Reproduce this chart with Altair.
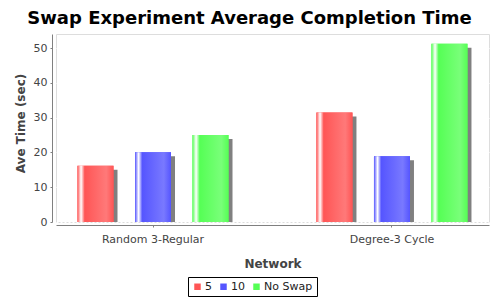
import altair as alt
import pandas as pd

networks = ["Random 3-Regular", "Degree-3 Cycle"]
series = ["5", "10", "No Swap"]
values_5 = [16.2, 31.5]
values_10 = [20.1, 18.9]
values_noswap = [25.0, 51.3]
y_ticks = [0, 10, 20, 30, 40, 50]
colors = ["#FF5555", "#5555FF", "#55FF55"]
brighter = ["#FF7979", "#7979FF", "#79FF79"]

rows = []
for s, vals in zip(series, [values_5, values_10, values_noswap]):
    for n, v in zip(networks, vals):
        rows.append({"network": n, "series": s, "value": v})
df = pd.DataFrame(rows)

FONT = "DejaVu Sans"

x_enc = alt.X(
    "network:N",
    sort=networks,
    scale=alt.Scale(paddingInner=0.368, paddingOuter=0.09),
    axis=alt.Axis(
        title="Network", offset=3, tickSize=2, labelPadding=6, labelFontSize=11,
        labelColor="#444444", labelFont=FONT, domainColor="#808080", tickColor="#808080",
        titleFont=FONT, titleFontSize=12, titleFontWeight="bold", titleColor="#444444",
        titleY=42, titleBaseline="alphabetic", labelAngle=0,
    ),
)


def xo(rng):
    return alt.XOffset("series:N", sort=series,
                       scale=alt.Scale(domain=series, range=rng,
                                       paddingInner=0.374, paddingOuter=0))


y_enc = alt.Y(
    "value:Q",
    scale=alt.Scale(domain=[0, 54.1], nice=False, zero=True),
    axis=alt.Axis(
        title="Ave Time (sec)", values=y_ticks, offset=4, tickSize=2, labelPadding=3,
        labelFontSize=11, labelColor="#444444", labelFont=FONT,
        domainColor="#808080", tickColor="#808080",
        gridColor="white", gridDash=[2, 2], gridWidth=1,
        titleFont=FONT, titleFontSize=12, titleFontWeight="bold", titleColor="#444444",
        titleX=-32, titleY=89, titleBaseline="middle",
    ),
)

base = alt.Chart(df)

shadow = base.mark_bar(color="#808080", yOffset=4, clip=True).encode(
    x=x_enc, xOffset=xo([4, 155]), y=y_enc
)

main_xo = xo([0, 151])
main = base.mark_bar().encode(
    x=x_enc, xOffset=main_xo, y=y_enc,
    color=alt.Color(
        "series:N", sort=series,
        scale=alt.Scale(domain=series, range=colors),
        legend=alt.Legend(
            title=None, orient="none", legendX=132, legendY=243, direction="horizontal",
            symbolType="square", symbolSize=42, symbolStrokeWidth=0,
            labelFontSize=11, labelFont=FONT, labelColor="#222222", labelOffset=2,
            columnPadding=6, padding=4, strokeColor="black",
        ),
    ),
)

grad_layers = []
for s, c0, c1 in zip(series, colors, brighter):
    g = alt.LinearGradient(
        gradient="linear", x1=0, x2=1, y1=0, y2=0,
        stops=[
            alt.GradientStop(color=c0, offset=0),
            alt.GradientStop(color="#FFFFFF", offset=0.1),
            alt.GradientStop(color=c0, offset=0.2),
            alt.GradientStop(color=c1, offset=0.8),
            alt.GradientStop(color=c0, offset=1),
        ],
    )
    grad_layers.append(
        base.transform_filter(alt.datum.series == s)
        .mark_bar(fill=g)
        .encode(x=x_enc, xOffset=main_xo, y=y_enc)
    )

chart = alt.layer(shadow, main, *grad_layers).resolve_scale(
    xOffset="independent"
).properties(
    width=433, height=188,
    title=alt.TitleParams(
        "Swap Experiment Average Completion Time", font=FONT, fontSize=18,
        fontWeight="bold", color="black", anchor="middle", frame="group",
        offset=7, baseline="alphabetic", dx=-23, dy=15,
    ),
    autosize=alt.AutoSizeParams(type="none"),
    padding={"left": 48, "top": 26, "right": 3, "bottom": 76},
).configure_view(
    fill="#C0C0C0", stroke="#808080", strokeWidth=1
).configure(background="white")

chart.save("out.html", embed_options={"renderer": "svg", "actions": False})
